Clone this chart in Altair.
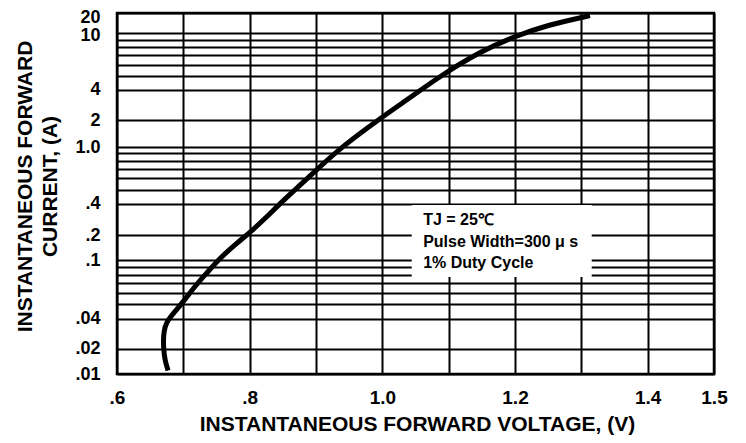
import altair as alt
import pandas as pd

# Curve: forward voltage (V) vs forward current (A)
voltage = [0.677, 0.672, 0.670, 0.670, 0.672, 0.677, 0.687, 0.700, 0.715, 0.735,
           0.755, 0.780, 0.800, 0.821, 0.851, 0.901, 0.936, 0.997, 1.037, 1.087,
           1.147, 1.198, 1.248, 1.313]
current = [0.011, 0.0147, 0.021, 0.0264, 0.0333, 0.0388, 0.0447, 0.0522, 0.0645, 0.0816,
           0.106, 0.159, 0.212, 0.279, 0.423, 0.689, 0.979, 2.09, 3.16, 4.98,
           7.41, 9.46, 13.2, 18.3]

# Axis labels
y_label_values = [0.01, 0.02, 0.04, 0.1, 0.2, 0.4, 1, 2, 4, 10, 20]
y_label_texts = [".01", ".02", ".04", ".1", ".2", ".4", "1.0", "2", "4", "10", "20"]
y_grid_values = [0.01, 0.02, 0.04, 0.05, 0.06, 0.07, 0.08, 0.09, 0.1, 0.2, 0.4,
                 0.5, 0.6, 0.7, 0.8, 0.9, 1, 2, 4, 5, 6, 7, 8, 9, 10, 20]
x_label_values = [0.6, 0.8, 1.0, 1.2, 1.4, 1.5]
x_label_texts = [".6", ".8", "1.0", "1.2", "1.4", "1.5"]
x_grid_values = [0.6, 0.7, 0.8, 0.9, 1.0, 1.1, 1.2, 1.3, 1.4, 1.5]

# Annotation
note_lines = ["TJ = 25\u2103", "Pulse Width=300 \u03bc s", "1% Duty Cycle"]
note_v = [1.0615, 1.0615, 1.0615]
note_i = [0.279, 0.1675, 0.0954]
box_v = [1.0443, 1.3157]
box_i = [0.387, 0.077]

W, H = 597, 361
# the printed chart's current axis is hand-spaced: knots at the labelled values
y_knot_range = [361.0, 335.7, 305.7, 247.3, 222.3, 190.5, 134.0, 107.3, 76.5, 20.3, 0.0]

def expr(vals, texts):
    parts = [f"datum.value == {v} ? '{t}'" for v, t in zip(vals, texts)]
    return " : ".join(parts) + " : ''"

LABEL_FONT = "Liberation Sans, Arial, sans-serif"
TITLE_FONT = "Liberation Sans, Arial, sans-serif"

yscale = alt.Scale(type="log", domain=y_label_values, range=y_knot_range, nice=False, zero=False)
xscale = alt.Scale(domain=[0.6, 1.5], nice=False, zero=False)

x_axis = alt.Axis(values=x_grid_values, labelExpr=expr(x_label_values, x_label_texts),
                  grid=True, gridColor="black", gridWidth=2, gridOpacity=1,
                  ticks=False, domain=False, labelFlush=False, labelOverlap=False,
                  labelFont=LABEL_FONT, labelFontSize=19, labelFontWeight="bold",
                  labelColor="black", labelPadding=14,
                  title="INSTANTANEOUS FORWARD VOLTAGE, (V)", titleFont=TITLE_FONT,
                  titleFontSize=21, titleFontWeight="bold", titleColor="black",
                  titleX=300, titleY=56, titleAlign="center", titleBaseline="alphabetic")
y_axis = alt.Axis(values=y_grid_values, labelExpr=expr(y_label_values, y_label_texts),
                  grid=True, gridColor="black", gridWidth=2, gridOpacity=1,
                  ticks=False, domain=False, labelOverlap=False, labelFlush=False,
                  labelFont=LABEL_FONT, labelFontSize=18, labelFontWeight="bold",
                  labelColor="black", labelPadding=17,
                  labelOffset={"condition": [{"test": "datum.value == 20", "value": 4},
                                             {"test": "datum.value == 10", "value": 2}],
                               "value": 0},
                  title=["INSTANTANEOUS FORWARD", "CURRENT, (A)"], titleFont=TITLE_FONT,
                  titleFontSize=21, titleFontWeight="bold", titleColor="black",
                  titleAngle=-90, titleX=-86, titleY=173, titleAlign="center",
                  titleBaseline="alphabetic", titleLineHeight=25)

curve = pd.DataFrame({"V": voltage, "I": current, "k": list(range(len(voltage)))})
line = alt.Chart(curve).mark_line(color="black", strokeWidth=5, interpolate="basis").encode(
    x=alt.X("V:Q", scale=xscale, axis=x_axis),
    y=alt.Y("I:Q", scale=yscale, axis=y_axis),
    order="k:Q",
)

box_df = pd.DataFrame({"V": [box_v[0]], "v2": [box_v[1]], "I": [box_i[0]], "i2": [box_i[1]]})
box = alt.Chart(box_df).mark_rect(color="white", opacity=1).encode(
    x=alt.X("V:Q", scale=xscale, axis=x_axis), x2="v2:Q",
    y=alt.Y("I:Q", scale=yscale, axis=y_axis), y2="i2:Q",
)

note_df = pd.DataFrame({"V": note_v, "I": note_i, "t": note_lines})
note = alt.Chart(note_df).mark_text(align="left", baseline="middle", font=LABEL_FONT,
                                    fontSize=16, fontWeight="bold", color="black").encode(
    x=alt.X("V:Q", scale=xscale, axis=x_axis),
    y=alt.Y("I:Q", scale=yscale, axis=y_axis),
    text="t:N",
)

chart = alt.layer(line, box, note).properties(
    width=W, height=H,
    padding={"left": 109, "top": 5, "right": 24, "bottom": 62},
    autosize=alt.AutoSizeParams(type="none"),
).configure_view(stroke="black", strokeWidth=2.5)

chart.save("out.html", embed_options={"renderer": "svg", "actions": False})
